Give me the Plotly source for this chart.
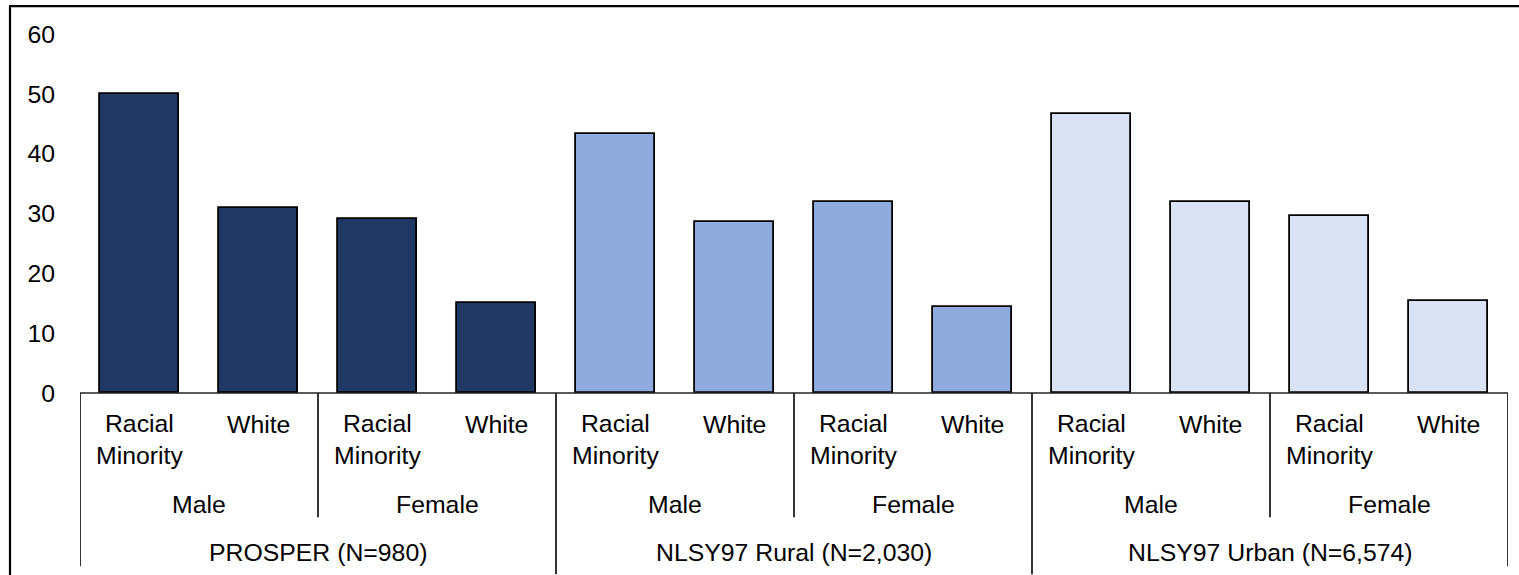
import plotly.graph_objects as go

# Percentages by study, sex and race (order: Male-Minority, Male-White, Female-Minority, Female-White)
studies = ["PROSPER (N=980)", "NLSY97 Rural (N=2,030)", "NLSY97 Urban (N=6,574)"]
sexes = ["Male", "Female"]
races = ["Racial<br>Minority", "White"]
prosper = [50.0, 31.0, 29.0, 15.0]
nlsy_rural = [43.3, 28.6, 32.0, 14.3]
nlsy_urban = [46.7, 32.0, 29.6, 15.3]
y_ticks = [0, 10, 20, 30, 40, 50, 60]

series = [prosper, nlsy_rural, nlsy_urban]
colors = ["#203864", "#8FAADC", "#DAE3F3"]

W, H = 1519, 575
L, R = 80, 11          # plot-area horizontal margins (px)
TOP, BASE = 34, 393.5  # pixel rows of y=60 and y=0
plot_w = W - L - R
plot_h = BASE - TOP
FS = 24.8


def py(p):
    """pixel row -> paper y"""
    return (BASE - p) / plot_h


def pxx(p):
    """pixel column -> paper x"""
    return (p - L) / plot_w


FONT = "Liberation Sans, Arial, sans-serif"
n_per = len(sexes) * len(races)

fig = go.Figure()
for s, (vals, col) in enumerate(zip(series, colors)):
    xs = [s * n_per + i for i in range(n_per)]
    fig.add_trace(go.Bar(
        x=xs, y=vals, width=0.672,
        marker=dict(color=col, line=dict(color="#000000", width=1.8)),
        showlegend=False, hoverinfo="y",
    ))

annotations = []
shapes = []
total = len(studies) * n_per

# category labels: race row, sex row, study row
for s, study in enumerate(studies):
    for g, sex in enumerate(sexes):
        for r, race in enumerate(races):
            idx = s * n_per + g * len(races) + r
            lines = race.count("<br>") + 1
            annotations.append(dict(
                x=idx, y=py(425 + (lines - 1) * 15.5), xref="x", yref="paper",
                text=race, showarrow=False, xanchor="center", yanchor="middle",
                font=dict(size=FS, color="#000000", family=FONT), align="center",
            ))
        annotations.append(dict(
            x=s * n_per + g * len(races) + (len(races) - 1) / 2, y=py(505),
            xref="x", yref="paper", text=sex, showarrow=False,
            xanchor="center", yanchor="middle",
            font=dict(size=FS, color="#000000", family=FONT),
        ))
    annotations.append(dict(
        x=s * n_per + (n_per - 1) / 2, y=py(553), xref="x", yref="paper",
        text=study, showarrow=False, xanchor="center", yanchor="middle",
        font=dict(size=FS, color="#000000", family=FONT),
    ))

# separators between category groups
for k in range(0, total + 1, len(races)):
    if k in (0, total):
        bottom = 567
    elif k % n_per == 0:
        bottom = 575
    else:
        bottom = 518
    shapes.append(dict(
        type="line", xref="x", yref="paper",
        x0=k - 0.5, x1=k - 0.5, y0=py(BASE), y1=py(bottom),
        line=dict(color="#000000", width=1.6),
    ))

# horizontal axis line
shapes.append(dict(
    type="line", xref="paper", yref="paper", x0=0, x1=1, y0=0, y1=0,
    line=dict(color="#222222", width=1.6),
))

# outer chart frame (top and left edges visible)
shapes.append(dict(
    type="line", xref="paper", yref="paper",
    x0=pxx(9), x1=pxx(W + 2), y0=py(6), y1=py(6),
    line=dict(color="#000000", width=2.2),
))
shapes.append(dict(
    type="line", xref="paper", yref="paper",
    x0=pxx(10), x1=pxx(10), y0=py(6), y1=py(H + 2),
    line=dict(color="#000000", width=2.2),
))

fig.update_layout(
    width=W, height=H,
    margin=dict(l=L, r=R, t=TOP, b=H - BASE, pad=0),
    paper_bgcolor="#FFFFFF", plot_bgcolor="#FFFFFF",
    bargap=0,
    xaxis=dict(range=[-0.5, total - 0.5], showticklabels=False, ticks="",
               showgrid=False, zeroline=False, showline=False, fixedrange=True),
    yaxis=dict(range=[0, 60], tickvals=y_ticks, showgrid=False, zeroline=False,
               showline=False, ticks="", ticklabelstandoff=24,
               tickfont=dict(size=FS, color="#000000", family=FONT), fixedrange=True),
    annotations=annotations, shapes=shapes,
    font=dict(family=FONT),
)

fig.write_html("out.html")
